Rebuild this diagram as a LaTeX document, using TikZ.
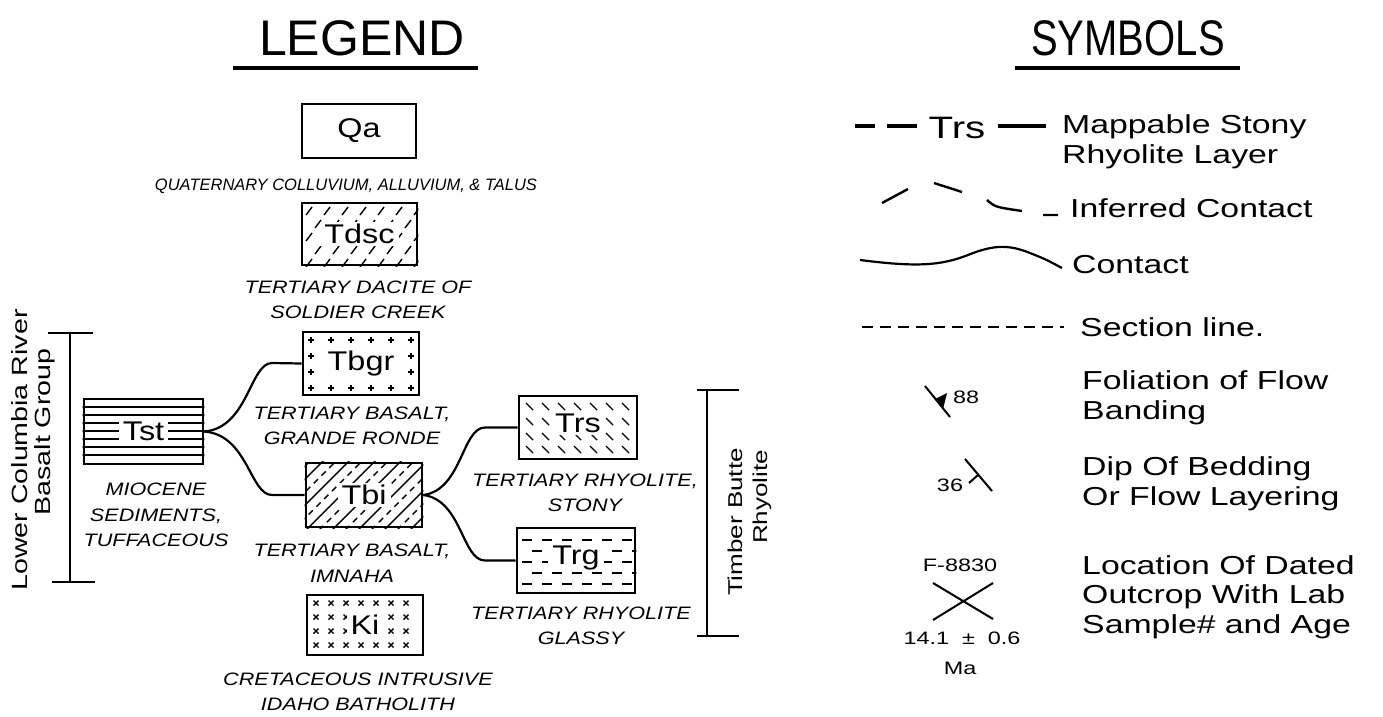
\documentclass[tikz,border=0pt]{standalone}
\usepackage{fontspec}
\setmainfont{Liberation Sans}
\newfontfamily\cadw[FakeStretch=1.2]{Liberation Sans}
\newfontfamily\cadx[FakeStretch=1.3]{Liberation Sans}
\newfontfamily\cadn{Liberation Sans}
\pgfdeclarelayer{paper}
\pgfdeclarelayer{bg}
\pgfsetlayers{paper,bg,main}
\tikzset{
  unitbox/.style={draw, line width=2.6pt, inner sep=0pt},
  lbl/.style={font=\cadw\fontsize{27}{27}\selectfont, fill=white, inner xsep=4pt, inner ysep=2pt},
  capt/.style={font=\cadw\itshape\fontsize{18}{25.5}\selectfont, align=center, inner sep=0pt},
  captq/.style={font=\cadn\itshape\fontsize{16.5}{20}\selectfont, inner sep=0pt},
  symtxt/.style={font=\cadx\fontsize{26}{29.5}\selectfont, align=left, anchor=west, inner sep=0pt},
  sidetxt/.style={font=\cadx\fontsize{22}{22}\selectfont, rotate=90, inner sep=0pt},
  sidetxtr/.style={font=\cadx\fontsize{20}{20}\selectfont, rotate=90, inner sep=0pt},
  smalltxt/.style={font=\cadx\fontsize{18}{18}\selectfont, inner sep=0pt},
  conn/.style={line width=2.2pt},
  bracket/.style={line width=2.2pt},
  pat/.style={line width=1.4pt},
  titletxt/.style={font=\cadn\fontsize{50}{50}\selectfont, inner sep=0pt},
}
\begin{document}
\begin{tikzpicture}[x=1pt,y=-1pt]
\useasboundingbox (0,0) rectangle (1383,716);
\begin{pgfonlayer}{paper}
\fill[white] (0,0) rectangle (1383,716);
\end{pgfonlayer}

% ---------- titles
\node[titletxt] (legend) at (362,38) {LEGEND};
\coordinate (lu1) at (233,68); \coordinate (lu2) at (478,68);
\draw[line width=4pt] (lu1) -- (lu2);
\node[titletxt] (symbols) at (1128,38) {\scalebox{0.8}[1]{SYMBOLS}};
\coordinate (su1) at (1015,68); \coordinate (su2) at (1240,68);
\draw[line width=4pt] (su1) -- (su2);

% ---------- legend boxes
\node[unitbox, minimum width=114, minimum height=54] (qa) at (359,131) {};
\node[unitbox, minimum width=115, minimum height=62] (tdsc) at (359.5,234) {};
\node[unitbox, minimum width=116, minimum height=63] (tbgr) at (361,363.5) {};
\node[unitbox, minimum width=119, minimum height=65] (tst) at (143.5,431.5) {};
\node[unitbox, minimum width=116, minimum height=64] (tbi) at (364,495) {};
\node[unitbox, minimum width=118, minimum height=63] (trs) at (578,427.5) {};
\node[unitbox, minimum width=118, minimum height=65] (trg) at (576,560.5) {};
\node[unitbox, minimum width=116, minimum height=60] (ki) at (365,625) {};

% ---------- patterns
\begin{pgfonlayer}{bg}
\begin{scope}
  \clip (tdsc.south west) rectangle (tdsc.north east);
  \foreach \r in {0,...,4} {
    \pgfmathsetmacro\yy{211+13*\r}
    \pgfmathsetmacro\off{mod(\r,2)*9}
    \foreach \c in {0,...,6} {
      \draw[pat] ({\off+306+18*\c},{\yy+4}) -- ++(6,-8);
    }
  }
\end{scope}
\begin{scope}
  \clip (tbgr.south west) rectangle (tbgr.north east);
  \foreach \x in {311,331,...,411} {
    \foreach \y in {340,356,372,388} {
      \draw[pat] ({\x-3},\y) -- ({\x+3},\y) (\x,{\y-3}) -- (\x,{\y+3});
    }
  }
\end{scope}
\begin{scope}
  \clip (tst.south west) rectangle (tst.north east);
  \foreach \y in {407,415,...,455} {
    \draw[pat] (80,\y) -- (210,\y);
  }
\end{scope}
\begin{scope}
  \clip (tbi.south west) rectangle (tbi.north east);
  \foreach \i in {-78,-52,...,130} {
    \draw[pat] ({306+\i},530) -- ++(70,-70);
  }
  \foreach \i in {-65,-39,...,130} {
    \draw[pat, dash pattern=on 6pt off 5pt] ({306+\i},530) -- ++(70,-70);
  }
\end{scope}
\begin{scope}
  \clip (trs.south west) rectangle (trs.north east);
  \foreach \x in {526,542,...,632} {
    \foreach \y in {403,418,433,446} {
      \draw[pat] (\x,\y) -- ++(7,7);
    }
  }
\end{scope}
\begin{scope}
  \clip (trg.south west) rectangle (trg.north east);
  \foreach \r in {0,...,4} {
    \pgfmathsetmacro\yy{540+11*\r}
    \pgfmathsetmacro\off{mod(\r,2)*10}
    \foreach \c in {0,...,5} {
      \draw[pat] ({\off+522+20*\c},\yy) -- ++(10,0);
    }
  }
\end{scope}
\begin{scope}
  \clip (ki.south west) rectangle (ki.north east);
  \foreach \x in {316,331,...,416} {
    \foreach \y in {603,617,631,645} {
      \draw[pat] ({\x-2.5},{\y-2.5}) -- ({\x+2.5},{\y+2.5}) ({\x-2.5},{\y+2.5}) -- ({\x+2.5},{\y-2.5});
    }
  }
\end{scope}
\end{pgfonlayer}

% ---------- box labels
\node[lbl] (qa-l) at (qa) {Qa};
\node[lbl] (tdsc-l) at (tdsc) {Tdsc};
\node[lbl] (tbgr-l) at (tbgr) {Tbgr};
\node[lbl] (tst-l) at (tst) {Tst};
\node[lbl] (tbi-l) at (tbi) {Tbi};
\node[lbl] (trs-l) at ([yshift=4pt]trs.center) {Trs};
\node[lbl] (trg-l) at ([yshift=3pt]trg.center) {Trg};
\node[lbl] (ki-l) at (ki) {Ki};

% ---------- captions
\node[captq] (qa-c) at (346,186) {QUATERNARY COLLUVIUM, ALLUVIUM, \& TALUS};
\node[capt] (tdsc-c) at (358,300) {TERTIARY DACITE OF\\SOLDIER CREEK};
\node[capt] (tbgr-c) at (352,426) {TERTIARY BASALT,\\GRANDE RONDE};
\node[capt] (tst-c) at (156,515) {MIOCENE\\SEDIMENTS,\\TUFFACEOUS};
\node[capt] (tbi-c) at (352,563) {TERTIARY BASALT,\\IMNAHA};
\node[capt] (trs-c) at (585,493) {TERTIARY RHYOLITE,\\STONY};
\node[capt] (trg-c) at (581,626) {TERTIARY RHYOLITE\\GLASSY};
\node[capt] (ki-c) at (358,692) {CRETACEOUS INTRUSIVE\\IDAHO BATHOLITH};

% ---------- connectors
\draw[conn] (tst.east) .. controls (248,428) and (250,363) .. (272,363) -- (tbgr.west);
\draw[conn] (tst.east) .. controls (248,435) and (250,495) .. (272,495) -- (tbi.west);
\draw[conn] (tbi.east) .. controls (462,490) and (462,427.5) .. (485,427.5) -- (trs.west);
\draw[conn] (tbi.east) .. controls (462,500) and (462,560.5) .. (485,560.5) -- (trg.west);

% ---------- brackets
\coordinate (lb1) at (70,333); \coordinate (lb2) at (70,582);
\coordinate (lt1) at (48,333); \coordinate (lt2) at (93,333);
\coordinate (lt3) at (52,582); \coordinate (lt4) at (95,582);
\draw[bracket] (lb1) -- (lb2) (lt1) -- (lt2) (lt3) -- (lt4);
\node[sidetxt] (lcr) at (20,450) {Lower Columbia River};
\node[sidetxt] (bg) at (45,432) {Basalt Group};

\coordinate (rb1) at (707,390); \coordinate (rb2) at (707,636);
\coordinate (rt1) at (697,390); \coordinate (rt2) at (739,390);
\coordinate (rt3) at (697,636); \coordinate (rt4) at (739,636);
\draw[bracket] (rb1) -- (rb2) (rt1) -- (rt2) (rt3) -- (rt4);
\node[sidetxtr] (tb) at (735,522) {Timber Butte};
\node[sidetxtr] (rh) at (762,497) {Rhyolite};

% ---------- symbols
% mappable stony rhyolite layer
\node[font=\cadx\fontsize{31}{31}\selectfont, inner sep=0pt] (trssym) at (957,128) {Trs};
\coordinate (d1a) at (855,126); \coordinate (d1b) at (875,126);
\coordinate (d2a) at (887,126); \coordinate (d2b) at (917,126);
\coordinate (s1a) at (998,126); \coordinate (s1b) at (1046,126);
\draw[line width=4.5pt] (d1a) -- (d1b) (d2a) -- (d2b) (s1a) -- (s1b);
\node[symtxt] (t-map) at (1062,142) {Mappable Stony\\Rhyolite Layer};

% inferred contact
\coordinate (i1) at (882,203); \coordinate (i2) at (908,189);
\coordinate (i3) at (934,183); \coordinate (i4) at (962,192);
\coordinate (i5) at (987,200); \coordinate (i6) at (1022,211);
\coordinate (i7) at (1043,215); \coordinate (i8) at (1058,215);
\draw[line width=2.4pt] (i1) -- (i2) (i3) -- (i4) (i5) .. controls (995,207) .. (i6) (i7) -- (i8);
\node[symtxt] (t-inf) at (1070,208) {Inferred Contact};

% contact
\coordinate (c1) at (860,260); \coordinate (c2) at (968,255); \coordinate (c3) at (1062,268);
\draw[line width=2.2pt] (c1) .. controls (915,267) and (940,266) .. (c2)
  .. controls (995,244) and (1010,245) .. (1030,253) .. controls (1045,259) .. (c3);
\node[symtxt] (t-con) at (1072,265) {Contact};

% section line
\coordinate (sl1) at (862,327); \coordinate (sl2) at (1064,327);
\draw[line width=1.8pt, dash pattern=on 11pt off 7pt] (sl1) -- (sl2);
\node[symtxt] (t-sec) at (1080,327) {Section line.};

% foliation
\coordinate (f1) at (925,386); \coordinate (f2) at (950,417);
\draw[line width=2pt] (f1) -- (f2);
\fill (935,399) -- (947,393) -- (943,409) -- cycle;
\node[smalltxt] (t88) at (966,397) {88};
\node[symtxt] (t-fol) at (1082,398) {Foliation of Flow\\Banding};

% dip
\coordinate (p1) at (965,459); \coordinate (p2) at (992,491);
\coordinate (p3) at (978,475); \coordinate (p4) at (969,483);
\draw[line width=2pt] (p1) -- (p2) (p3) -- (p4);
\node[smalltxt] (t36) at (950,485) {36};
\node[symtxt] (t-dip) at (1082,484) {Dip Of Bedding\\Or Flow Layering};

% dated outcrop
\node[smalltxt] (tf) at (960,565) {F-8830};
\coordinate (x1) at (933,583); \coordinate (x2) at (993,619);
\coordinate (x3) at (993,583); \coordinate (x4) at (933,620);
\draw[line width=2pt] (x1) -- (x2) (x3) -- (x4);
\node[smalltxt] (tage) at (962,638) {14.1 \ ± \ 0.6};
\node[smalltxt] (tma) at (960,668) {Ma};
\node[symtxt] (t-loc) at (1082,597) {Location Of Dated\\Outcrop With Lab\\Sample\# and Age};
\end{tikzpicture}
\end{document}
